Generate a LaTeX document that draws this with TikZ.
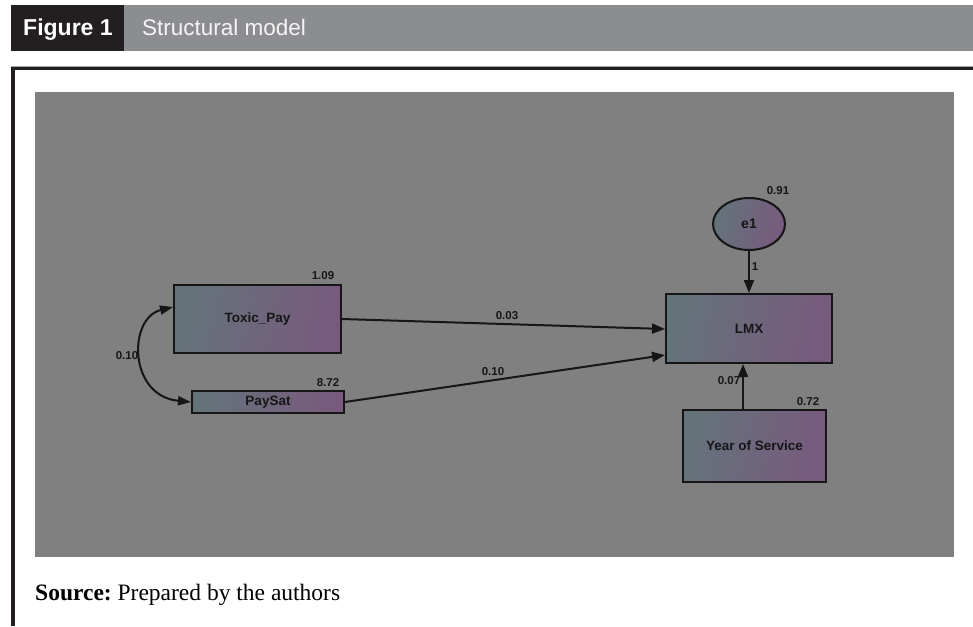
\documentclass[tikz,border=0pt]{standalone}
\usepackage{fontspec}
\setmainfont{Liberation Serif}
\newfontfamily\arialfont{Liberation Sans}
\usetikzlibrary{arrows.meta,shapes.geometric}

\definecolor{hdrblack}{HTML}{231F20}
\definecolor{hdrgrey}{HTML}{8C8D90}
\definecolor{canvasgrey}{HTML}{808080}
\definecolor{inkdark}{HTML}{161616}
\definecolor{boxleft}{HTML}{64737A}
\definecolor{boxright}{HTML}{785A7E}

\tikzset{
  x=1pt, y=-1pt,
  varbox/.style={draw=inkdark, line width=2pt, rectangle, inner sep=0pt,
    left color=boxleft, right color=boxright, shading angle=78, text=inkdark,
    font=\arialfont\bfseries\fontsize{13.5}{15}\selectfont},
  latentvar/.style={draw=inkdark, line width=2pt, ellipse, inner sep=0pt,
    left color=boxleft, right color=boxright, shading angle=78, text=inkdark,
    font=\arialfont\bfseries\fontsize{14}{15}\selectfont},
  coef/.style={text=inkdark, inner sep=0pt,
    font=\arialfont\bfseries\fontsize{11.5}{13}\selectfont},
  regpath/.style={draw=inkdark, line width=2pt,
    -{Triangle[length=13pt,width=10pt]}},
  covpath/.style={draw=inkdark, line width=2pt,
    {Triangle[length=13pt,width=9pt]}-{Triangle[length=13pt,width=9pt]}},
}

\begin{document}
\begin{tikzpicture}
\useasboundingbox (0,0) rectangle (973,626);
\fill[white] (0,0) rectangle (973,626);

% title bar
\fill[hdrblack] (11,5) rectangle (124,51);
\fill[hdrgrey] (124,5) rectangle (973,51);
\node[anchor=base west, text=white, inner sep=0pt,
  font=\arialfont\bfseries\fontsize{23}{26}\selectfont] (figno) at (23,35.5) {Figure 1};
\node[anchor=base west, text=white!96!black, inner sep=0pt,
  font=\arialfont\fontsize{22.5}{26}\selectfont] (figtitle) at (142,35.5) {Structural model};

% frame
\draw[black!35, line width=0.8pt] (11,66) -- (973,66);
\draw[hdrblack, line width=3.5pt] (973,68.5) -- (13,68.5) -- (13,626);

% model canvas
\fill[canvasgrey] (35,92) rectangle (954,557);

% variables
\node[varbox, minimum width=167pt, minimum height=68pt] (tp) at (257.5,319) {Toxic\_Pay};
\node[varbox, minimum width=152pt, minimum height=22pt] (ps) at (268,402) {PaySat};
\node[varbox, minimum width=166pt, minimum height=69pt] (lmx) at (749,328.5) {LMX};
\node[varbox, minimum width=143pt, minimum height=72pt] (yos) at (754.5,446) {Year of Service};
\node[latentvar, minimum width=72pt, minimum height=52pt] (e1) at (749,224) {e1};

% anchor points on the box sides
\coordinate (tpout) at (tp.east);
\coordinate (tpcov) at ([yshift=12pt]tp.west);
\coordinate (lmxa) at ([yshift=-0.5pt]lmx.west);
\coordinate (lmxb) at ([yshift=-26.5pt]lmx.west);
\coordinate (yosup) at ([xshift=-11.5pt]yos.north);
\coordinate (lmxlow) at ([xshift=-6pt]lmx.south);

% paths
\draw[regpath] (tpout) -- (lmxa);
\draw[regpath] (ps.east) -- (lmxb);
\draw[regpath] (e1.south) -- (lmx.north);
\draw[regpath] (yosup) -- (lmxlow);
\draw[covpath] (tpcov) .. controls (128,318) and (128,396) .. (ps.west);

% estimates
\node[coef] (vtp) at (323,276) {1.09};
\node[coef] (vps) at (328,383) {8.72};
\node[coef] (ve1) at (778,191) {0.91};
\node[coef] (vyos) at (808,402) {0.72};
\node[coef] (w1) at (755,267) {1};
\node[coef] (wtp) at (507,316) {0.03};
\node[coef] (wps) at (493,372) {0.10};
\node[coef] (cov) at (127,356) {0.10};
\node[coef] (wyos) at (729,381) {0.07};

% source line
\node[anchor=base west, inner sep=0pt, text=black,
  font=\fontsize{23.5}{28}\selectfont] (src) at (35,600) {\textbf{Source:}\ Prepared by the authors};
\end{tikzpicture}
\end{document}
